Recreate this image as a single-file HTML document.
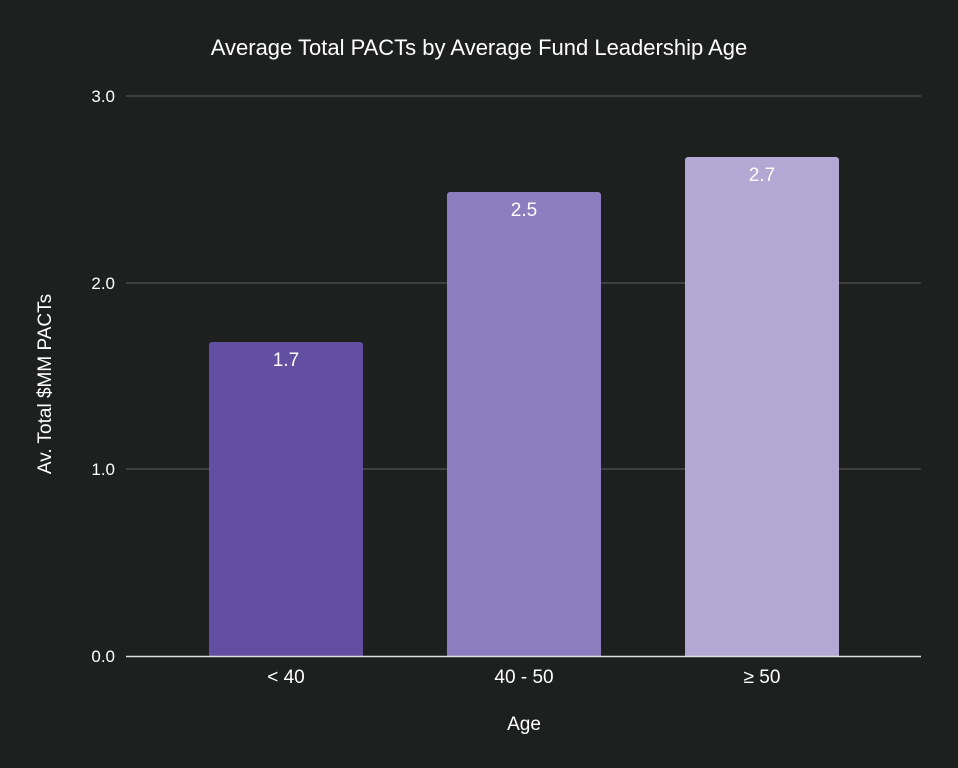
<!DOCTYPE html>
<html><head><style>
html,body{margin:0;padding:0;background:#1e1f1f;}
svg{display:block;}
text{font-family:"Liberation Sans",sans-serif;fill:#fff;}
</style></head><body>
<svg width="958" height="768" viewBox="0 0 958 768">
<rect width="958" height="768" fill="#1e1f1f"/>
<text x="479" y="55" font-size="22" text-anchor="middle">Average Total PACTs by Average Fund Leadership Age</text>
<g stroke="#4a4a4a" stroke-width="1.5">
<line x1="126" y1="96" x2="921" y2="96"/>
<line x1="126" y1="283" x2="921" y2="283"/>
<line x1="126" y1="469" x2="921" y2="469"/>
</g>
<g font-size="17" text-anchor="end">
<text x="115" y="102">3.0</text>
<text x="115" y="289">2.0</text>
<text x="115" y="475">1.0</text>
<text x="115" y="662">0.0</text>
</g>
<path d="M209,656 V345 a3,3 0 0 1 3,-3 H360 a3,3 0 0 1 3,3 V656Z" fill="#634fa2"/>
<path d="M447,656 V195 a3,3 0 0 1 3,-3 H598 a3,3 0 0 1 3,3 V656Z" fill="#8c7dbf"/>
<path d="M685,656 V160 a3,3 0 0 1 3,-3 H836 a3,3 0 0 1 3,3 V656Z" fill="#b3a7d4"/>
<line x1="126" y1="656.5" x2="921" y2="656.5" stroke="#e0e0e0" stroke-width="1.5"/>
<g font-size="19" text-anchor="middle">
<text x="286" y="366">1.7</text>
<text x="524" y="216">2.5</text>
<text x="762" y="181">2.7</text>
<text x="286" y="683">&lt; 40</text>
<text x="524" y="683">40 - 50</text>
<text x="762" y="683">≥ 50</text>
<text x="524" y="730">Age</text>
<text transform="translate(51,384) rotate(-90)">Av. Total $MM PACTs</text>
</g>
</svg>
</body></html>
